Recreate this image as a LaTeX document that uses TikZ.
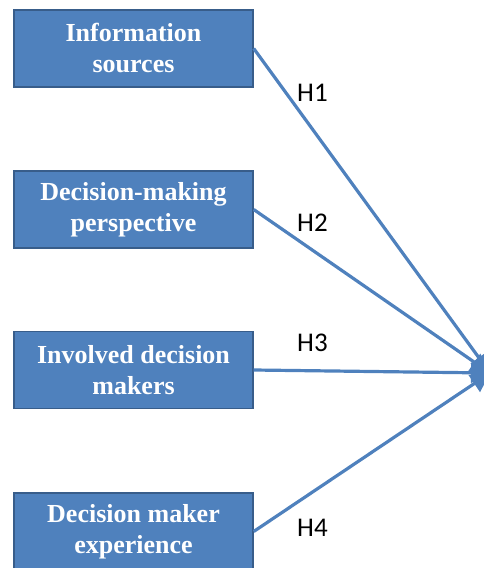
\documentclass[tikz,border=0pt]{standalone}
\usepackage{fontspec}
\setmainfont{Liberation Serif}
\newfontfamily\hfont{Carlito}
\usetikzlibrary{arrows.meta}
\definecolor{boxblue}{HTML}{4F81BD}
\definecolor{boxedge}{HTML}{385D8A}
\begin{document}
\begin{tikzpicture}[x=1bp,y=-1bp,
  factor/.style={draw=boxedge, fill=boxblue, line width=1.4bp, minimum width=239bp, minimum height=77bp, inner sep=0pt, align=center, text=white, font=\fontsize{26bp}{31bp}\selectfont\bfseries},
  link/.style={draw=boxblue, line width=3.2bp, -{Triangle[length=19bp,width=20bp]}},
  hlab/.style={font=\hfont\fontsize{27bp}{30bp}\selectfont, text=black, anchor=west, inner sep=0pt}]
\useasboundingbox (0,0) rectangle (484,568);
\clip (0,0) rectangle (484,568);
\node[factor] (f1) at (133.5,48.5) {Information\\sources};
\node[factor] (f2) at (133.5,209.5) {Decision-making\\perspective};
\node[factor] (f3) at (133.5,370) {Involved decision\\makers};
\node[factor] (f4) at (133.5,531.5) {Decision maker\\experience};
\coordinate (tgt) at (490,373);
\draw[link] (f1.east) -- (tgt);
\draw[link] (f2.east) -- (tgt);
\draw[link] (f3.east) -- (tgt);
\draw[link] (f4.east) -- (tgt);
\node[hlab] (h1) at (297,93) {H1};
\node[hlab] (h2) at (297,223) {H2};
\node[hlab] (h3) at (297,343) {H3};
\node[hlab] (h4) at (297,528) {H4};
\end{tikzpicture}
\end{document}
